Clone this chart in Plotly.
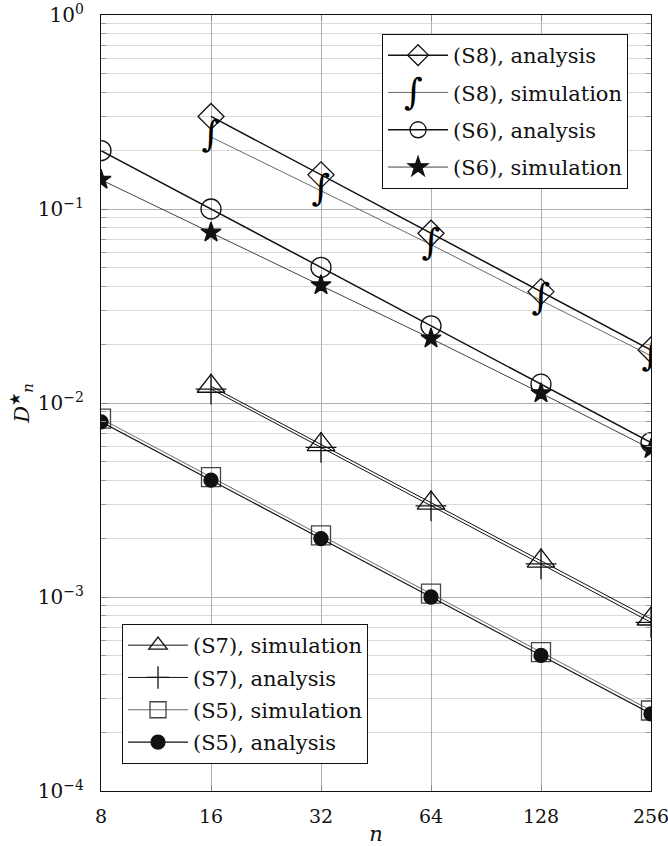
import math
import plotly.graph_objects as go

# ---- data ----
n_all = [8, 16, 32, 64, 128, 256]
n_16 = [16, 32, 64, 128, 256]

s8_analysis = [0.300, 0.150, 0.075, 0.0375, 0.01875]
s8_simulation = [0.235, 0.124, 0.0655, 0.0338, 0.0175]
s6_analysis = [0.200, 0.100, 0.050, 0.025, 0.0125, 0.00625]
s6_simulation = [0.1415, 0.0757, 0.0405, 0.0215, 0.01124, 0.0058]
s7_simulation = [0.0122, 0.0061, 0.00305, 0.00153, 0.00077]
s7_analysis = [0.0118, 0.0059, 0.00295, 0.00148, 0.00074]
s5_simulation = [0.0083, 0.00415, 0.00208, 0.00104, 0.00052, 0.00026]
s5_analysis = [0.0080, 0.0040, 0.0020, 0.0010, 0.0005, 0.00025]

x_ticks = [8, 16, 32, 64, 128, 256]
x_ticktext = ["8", "16", "32", "64", "128", "256"]
y_exps = [-4, -3, -2, -1, 0]

FONT = "DejaVu Serif"
BLACK = "#111111"

fig = go.Figure()

def add(x, y, name, legend, symbol=None, size=10, width=1.0, color=BLACK,
        mfill=None):
    mk = dict(symbol=symbol, size=size, color=mfill if mfill else color,
              line=dict(color=BLACK, width=1.3)) if symbol else None
    fig.add_trace(go.Scatter(
        x=x, y=y, name=name, legend=legend, legendgroup=name,
        mode="lines+markers" if symbol else "lines",
        line=dict(color=color, width=width),
        marker=mk,
    ))

# top legend group
add(n_16, s8_analysis, "(S8), analysis", "legend", "diamond-open", 20, 1.5)
add(n_16, s8_simulation, "(S8), simulation", "legend", None, width=0.8, color="#444444")
fig.add_trace(go.Scatter(
    x=n_16, y=s8_simulation, mode="text", text=["∫"] * len(n_16),
    textposition="middle center", showlegend=False,
    textfont=dict(family="DejaVu Serif", size=36, color="#000000"),
))
add(n_all, s6_analysis, "(S6), analysis", "legend", "circle-open", 20, 1.5)
add(n_all, s6_simulation, "(S6), simulation", "legend", "star", 15, 0.8,
    mfill=BLACK)

# bottom legend group
add(n_16, s7_simulation, "(S7), simulation", "legend2", "triangle-up-open", 24, 1.0)
add(n_16, s7_analysis, "(S7), analysis", "legend2", "cross-thin-open", 22, 1.0)
add(n_all, s5_simulation, "(S5), simulation", "legend2", "square-open", 19, 0.8,
    color="#444444")
add(n_all, s5_analysis, "(S5), analysis", "legend2", "circle", 14, 1.2,
    mfill=BLACK)

minor_vals = [m * 10.0 ** e for e in range(-4, 0) for m in range(2, 10)]
eps = 1e-6

fig.update_layout(
    width=668, height=846,
    margin=dict(l=101, r=17, t=15, b=55, autoexpand=False),
    paper_bgcolor="white", plot_bgcolor="white",
    font=dict(family=FONT, size=19, color=BLACK),
    xaxis=dict(
        type="log", range=[math.log10(8) - eps, math.log10(256) + eps],
        tickmode="array", tickvals=x_ticks, ticktext=x_ticktext,
        ticks="inside", ticklen=6, tickcolor="#888888",
        showgrid=True, gridcolor="#b0b0b0", gridwidth=1,
        showline=True, linecolor=BLACK, linewidth=1.2, mirror="allticks",
        zeroline=False, ticklabelstandoff=8, automargin=False,
        ticklabeloverflow="allow",
        title=dict(text="<i>n</i>", font=dict(size=21), standoff=0),
    ),
    yaxis=dict(
        type="log", range=[-4 - eps, 0 + eps],
        tickmode="array", tickvals=[10.0 ** e for e in y_exps],
        ticktext=["10<sup>" + ("−" if e < 0 else "") + str(abs(e)) + "</sup>"
                  for e in y_exps],
        ticks="inside", ticklen=7, tickcolor="#888888",
        showgrid=True, gridcolor="#b0b0b0", gridwidth=1,
        showline=True, linecolor=BLACK, linewidth=1.2, mirror="allticks",
        zeroline=False, ticklabelstandoff=12, automargin=False,
        ticklabeloverflow="allow", tickfont=dict(size=20),
        minor=dict(tickvals=minor_vals, ticks="inside", ticklen=5,
                   tickcolor="#999999", showgrid=True, gridcolor="#dadada",
                   gridwidth=1),
        title=dict(text="<i>D</i><sup>★</sup><sub><i>n</i></sub>",
                   font=dict(size=21), standoff=2),
    ),
    legend=dict(
        x=0.511, y=0.9755, xanchor="left", yanchor="top",
        bgcolor="white", bordercolor=BLACK, borderwidth=1,
        font=dict(family=FONT, size=21, color=BLACK),
        itemwidth=60, tracegroupgap=7, itemsizing="trace",
        traceorder="grouped",
    ),
    legend2=dict(
        x=0.0382, y=0.0348, xanchor="left", yanchor="bottom",
        bgcolor="white", bordercolor=BLACK, borderwidth=1,
        font=dict(family=FONT, size=21, color=BLACK),
        itemwidth=60, tracegroupgap=2, itemsizing="trace",
        traceorder="grouped",
    ),
)

# integral glyph on the legend sample of "(S8), simulation"
fig.add_annotation(
    xref="paper", yref="paper", x=0.569, y=0.9008, text="∫", showarrow=False,
    font=dict(family="DejaVu Serif", size=36, color="#000000"),
    xanchor="center", yanchor="middle",
)

fig.write_html("out.html", config={"displayModeBar": False},
               post_script="document.body.style.margin='0px';")
